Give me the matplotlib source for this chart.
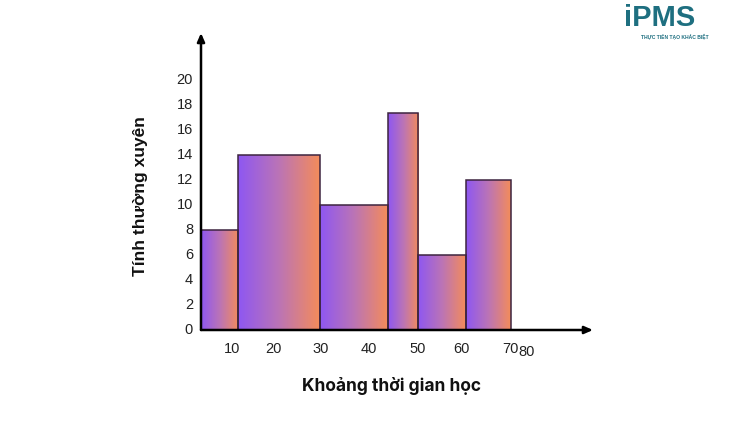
import numpy as np
import matplotlib
matplotlib.use("Agg")
import matplotlib.pyplot as plt
from matplotlib.colors import LinearSegmentedColormap
from matplotlib.patches import Rectangle

# Data (x in chart units; tick labels placed where they appear in the picture)
bin_edges = [0, 8.4, 26.9, 42.2, 49.0, 59.8, 69.9]
frequencies = [8, 14, 10, 17.4, 6, 12]
xtick_pos = [7.0, 16.3, 27.1, 37.9, 48.8, 58.7, 69.8, 73.6]
xtick_labels = ["10", "20", "30", "40", "50", "60", "70", "80"]
ytick_vals = [0, 2, 4, 6, 8, 10, 12, 14, 16, 18, 20]
xlabel = "Khoảng thời gian học"
ylabel = "Tính thường xuyên"

W, H = 750, 421
fig = plt.figure(figsize=(7.5, 4.21), dpi=100)
x0, x1, y0, y1 = 201, 593, 330, 33
ax = fig.add_axes([x0 / W, (H - y0) / H, (x1 - x0) / W, (y0 - y1) / H])
xmax = 88.5
ymax = (y0 - y1) / 12.5
ax.set_xlim(0, xmax)
ax.set_ylim(0, ymax)
for s in ax.spines.values():
    s.set_visible(False)

cmap = LinearSegmentedColormap.from_list("pg", ["#8E57F2", "#BB74B6", "#F48C5A"])
grad = np.linspace(0, 1, 256).reshape(1, -1)
for left, right, h in zip(bin_edges[:-1], bin_edges[1:], frequencies):
    im = ax.imshow(grad, cmap=cmap, aspect="auto", extent=[left, right, 0, h],
                   interpolation="bilinear", zorder=2)
    rect = Rectangle((left, 0), right - left, h, facecolor="none",
                     edgecolor="#3d2440", linewidth=1.1, zorder=3)
    ax.add_patch(rect)
    im.set_clip_path(rect)

# axes arrows
ax.annotate("", xy=(1, 0), xytext=(0, 0), xycoords="axes fraction",
            arrowprops=dict(arrowstyle="-|>,head_length=0.5,head_width=0.22",
                            color="black", lw=1.8, shrinkA=0, shrinkB=0), zorder=5)
ax.annotate("", xy=(0, 1), xytext=(0, 0), xycoords="axes fraction",
            arrowprops=dict(arrowstyle="-|>,head_length=0.5,head_width=0.22",
                            color="black", lw=1.8, shrinkA=0, shrinkB=0), zorder=5)

ax.set_xticks([])
ax.set_yticks([])
tick_font = dict(family="Liberation Sans", fontsize=10.5, color="#222222")
for v in ytick_vals:
    ax.text(-1.8, v, str(v), ha="right", va="center", **tick_font)
for p, lab in zip(xtick_pos, xtick_labels):
    dy = -1.55 if lab != "80" else -1.75
    ax.text(p, dy, lab, ha="center", va="center", **tick_font)

fig.text(392 / W, 1 - 386 / H, xlabel, ha="center", va="center",
         fontsize=12.5, fontweight="bold", family="Inter", color="#111111")
fig.text(140 / W, 1 - 196 / H, ylabel, ha="center", va="center", rotation=90,
         fontsize=12.5, fontweight="bold", family="Liberation Sans", color="#111111")

# logo
fig.text(624 / W, 1 - 18 / H, "iPMS", ha="left", va="center", fontsize=21,
         fontweight="bold", family="Liberation Sans", color="#1E6F80")
fig.text(641 / W, 1 - 36 / H, "THỰC TIỄN TẠO KHÁC BIỆT", ha="left", va="center",
         fontsize=3.6, fontweight="bold", family="Liberation Sans", color="#1E6F80")

fig.savefig("out.png", dpi=100)
